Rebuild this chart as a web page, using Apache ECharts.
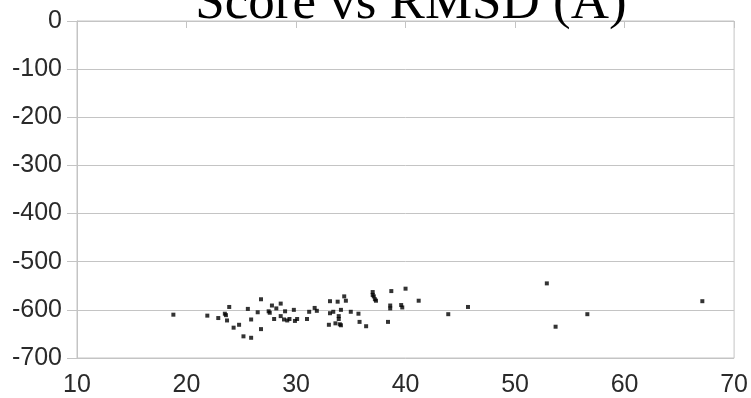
<!DOCTYPE html>
<html>
<head>
<meta charset="utf-8">
<script src="https://cdn.jsdelivr.net/npm/echarts@6/dist/echarts.min.js"></script>
<style>
html,body{margin:0;padding:0;background:#fff;}
#chart{width:751px;height:398px;}
</style>
</head>
<body>
<div id="chart"></div>
<script>
var titleText = 'Score vs RMSD (Å)';
var rmsd = [18.8,21.9,22.9,23.5,23.6,23.7,23.9,24.3,24.8,25.2,25.9,25.6,25.9,26.8,26.8,26.5,27.5,27.6,27.8,28.2,28.6,28.0,28.6,29.0,28.9,29.2,29.4,29.8,30.1,29.9,31.0,31.2,31.7,31.9,33.1,33.8,34.4,34.55,33.1,33.4,33.9,33.9,34.1,33.0,33.6,34.0,34.1,35.0,35.7,35.8,36.4,37.0,37.0,37.1,37.2,37.3,38.7,40.0,38.6,38.6,39.6,39.7,38.4,41.2,43.9,45.7,52.9,53.7,56.6,67.1];
var score = [-610,-612,-617,-608,-611,-622,-594,-637,-631,-655,-658,-598,-620,-640,-578,-605,-603,-606,-591,-597,-587,-619,-613,-603,-620,-622,-619,-600,-619,-623,-619,-604,-596,-602,-582,-583,-572,-581,-607,-604,-613,-619,-600,-631,-628,-630,-632,-604,-608,-625,-634,-563,-569,-572,-578,-581,-561,-556,-591,-597,-590,-595,-625,-581,-609,-594,-545,-635,-609,-582];
var xTicks = [10, 70, 10];   // min, max, interval
var yTicks = [-700, 0, 100]; // min, max, interval

var points = rmsd.map(function (x, i) { return [x, score[i]]; });
var chart = echarts.init(document.getElementById('chart'), null, {renderer: 'canvas'});
var gridColor = '#c4c4c4';
var labelStyle = {color: '#2a2a2a', fontSize: 25, fontFamily: 'Liberation Sans, Arial, sans-serif'};
chart.setOption({
  animation: false,
  backgroundColor: '#ffffff',
  title: {
    text: titleText,
    left: 406, top: -27,
    textAlign: 'center',
    textStyle: {fontFamily: 'Liberation Serif, Times New Roman, serif', fontWeight: 'normal', fontSize: 53, color: '#000'}
  },
  grid: {left: 77, right: 15, top: 21, bottom: 40, show: true, borderColor: gridColor, borderWidth: 1},
  xAxis: {
    type: 'value', min: xTicks[0], max: xTicks[1], interval: xTicks[2],
    axisLine: {show: true, lineStyle: {color: gridColor}},
    axisTick: {show: true, length: 7, inside: false, lineStyle: {color: gridColor}},
    splitLine: {show: false},
    axisLabel: Object.assign({margin: 15}, labelStyle)
  },
  yAxis: {
    type: 'value', min: yTicks[0], max: yTicks[1], interval: yTicks[2],
    axisLine: {show: true, lineStyle: {color: gridColor}},
    axisTick: {show: true, length: 10, inside: false, lineStyle: {color: gridColor}},
    splitLine: {show: true, lineStyle: {color: gridColor, width: 1}},
    axisLabel: Object.assign({margin: 15}, labelStyle)
  },
  series: [{
    type: 'scatter',
    data: points,
    symbol: 'rect',
    symbolSize: 4,
    itemStyle: {color: '#000'}
  }]
});
</script>
</body>
</html>
